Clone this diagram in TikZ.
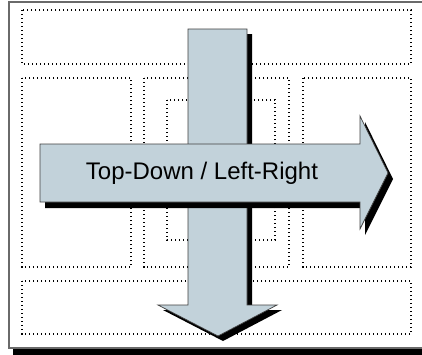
\documentclass[tikz,border=0pt]{standalone}
\usepackage{fontspec}
\setmainfont{Liberation Sans}
\definecolor{arrowfill}{HTML}{C2D2DA}
\definecolor{edgegray}{HTML}{404040}
\definecolor{framegray}{HTML}{6A6A6A}
\begin{document}
\begin{tikzpicture}[x=1pt,y=-1pt,
  region/.style={draw=black,line width=1.4pt,dash pattern=on 1.3pt off 2.7pt},
  arrowbody/.style={fill=arrowfill,draw=edgegray,line width=0.7pt,line join=miter},
  arrowshadow/.style={fill=black},
  label/.style={font=\fontsize{24}{28}\selectfont,text=black,inner sep=0pt}]
\useasboundingbox (0,0) rectangle (422,354);
\clip (0,0) rectangle (422,354);
% frame with shadow
\fill[black] (13,10) rectangle (440,360);
\draw[fill=white,draw=framegray,line width=1.4pt] (9,2) rectangle (430,348);
% dotted regions
\draw[region] (22,10) rectangle (411,64);
\draw[region] (22,78) rectangle (131,267);
\draw[region] (144,78) rectangle (289,267);
\draw[region] (167,100) rectangle (275,240);
\draw[region] (303,78) rectangle (411,267);
\draw[region] (22,281) rectangle (411,334);
% vertical arrow
\fill[arrowshadow,shift={(5,5)}] (188,29) -- (247,29) -- (247,305) -- (277,305) -- (218,336) -- (158,305) -- (188,305) -- cycle;
\draw[arrowbody] (188,29) -- (247,29) -- (247,305) -- (277,305) -- (218,336) -- (158,305) -- (188,305) -- cycle;
% horizontal arrow
\fill[arrowshadow,shift={(5,6)}] (40,144) -- (360,144) -- (360,116) -- (388,173) -- (360,229) -- (360,202) -- (40,202) -- cycle;
\draw[arrowbody] (40,144) -- (360,144) -- (360,116) -- (388,173) -- (360,229) -- (360,202) -- (40,202) -- cycle;
\node[label] (caption) at (202,173) {Top-Down / Left-Right};
\end{tikzpicture}
\end{document}
